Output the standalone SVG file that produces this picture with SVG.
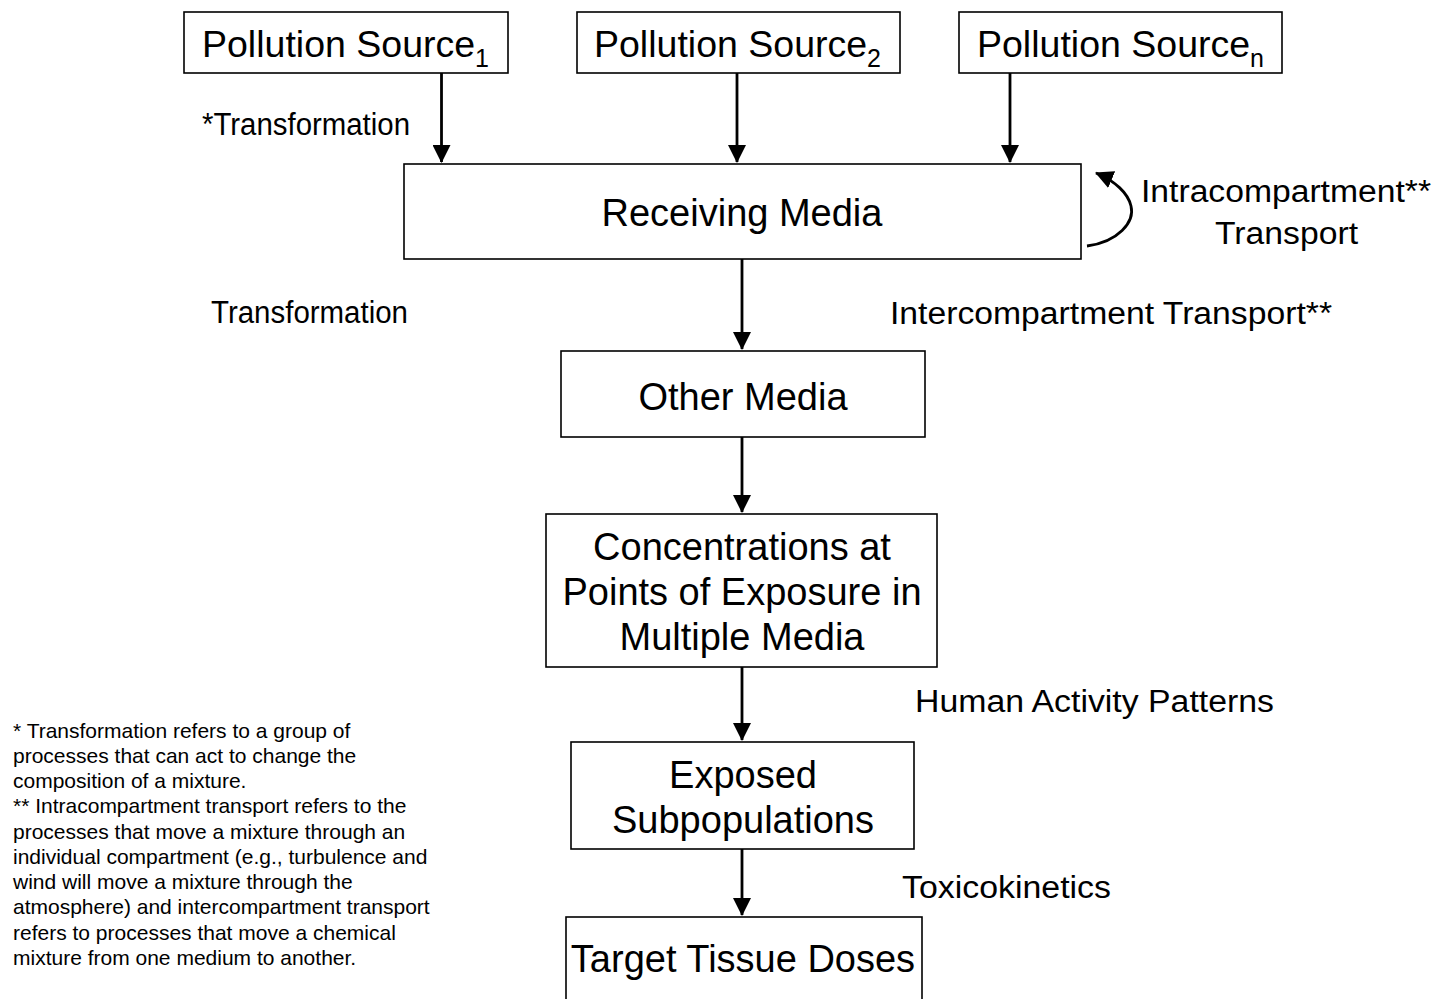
<svg xmlns="http://www.w3.org/2000/svg" width="1436" height="999" viewBox="0 0 1436 999">
<style>
text{font-family:"Liberation Sans",Arial,sans-serif;fill:#000}
.box{fill:#fff;stroke:#000;stroke-width:1.6}
.bt{font-size:38px;text-anchor:middle}
.lb{font-size:31px}
.fn{font-size:21px}
.ar{stroke:#000;stroke-width:2.8;fill:none}
</style>
<defs>
<marker id="ah" markerUnits="userSpaceOnUse" markerWidth="18" markerHeight="18" refX="17" refY="9" orient="auto">
<path d="M0,0 L18,9 L0,18 z" fill="#000"/>
</marker>
</defs>
<rect width="1436" height="999" fill="#fff"/>
<g id="connectors">
<line class="ar" x1="441.5" y1="73" x2="441.5" y2="162" marker-end="url(#ah)"/>
<line class="ar" x1="737" y1="73" x2="737" y2="162" marker-end="url(#ah)"/>
<line class="ar" x1="1010" y1="73" x2="1010" y2="162" marker-end="url(#ah)"/>
<line class="ar" x1="742" y1="259" x2="742" y2="349" marker-end="url(#ah)"/>
<line class="ar" x1="742" y1="437" x2="742" y2="512" marker-end="url(#ah)"/>
<line class="ar" x1="742" y1="667" x2="742" y2="740" marker-end="url(#ah)"/>
<line class="ar" x1="742" y1="849" x2="742" y2="915" marker-end="url(#ah)"/>
<path class="ar" d="M1087,246 C1118,242 1135,222 1131,206 C1128,193 1115,181 1096,173" marker-end="url(#ah)"/>
</g>
<g id="ps1"><rect class="box" x="184" y="12" width="324" height="61"/><text x="202" y="57" font-size="37.5">Pollution Source<tspan dy="10" font-size="25">1</tspan></text></g>
<g id="ps2"><rect class="box" x="577" y="12" width="323" height="61"/><text x="594" y="57" font-size="37.5">Pollution Source<tspan dy="10" font-size="25">2</tspan></text></g>
<g id="psn"><rect class="box" x="959" y="12" width="323" height="61"/><text x="977" y="57" font-size="37.5">Pollution Source<tspan dy="10" font-size="25">n</tspan></text></g>
<g id="receiving"><rect class="box" x="404" y="164" width="677" height="95"/><text class="bt" x="742" y="226">Receiving Media</text></g>
<g id="other"><rect class="box" x="561" y="351" width="364" height="86"/><text class="bt" x="743" y="410">Other Media</text></g>
<g id="concentrations"><rect class="box" x="546" y="514" width="391" height="153"/>
<text class="bt" x="742" y="560">Concentrations at</text>
<text class="bt" x="742" y="605">Points of Exposure in</text>
<text class="bt" x="742" y="650">Multiple Media</text></g>
<g id="exposed"><rect class="box" x="571" y="742" width="343" height="107"/>
<text class="bt" x="743" y="788">Exposed</text>
<text class="bt" x="743" y="833">Subpopulations</text></g>
<g id="target"><rect class="box" x="566" y="917" width="356" height="90"/><text class="bt" x="743" y="972">Target Tissue Doses</text></g>
<g id="labels">
<text class="lb" x="202" y="135" textLength="208" lengthAdjust="spacingAndGlyphs">*Transformation</text>
<text class="lb" x="211" y="323" textLength="197" lengthAdjust="spacingAndGlyphs">Transformation</text>
<text class="lb" x="890" y="324" textLength="442" lengthAdjust="spacingAndGlyphs">Intercompartment Transport**</text>
<text class="lb" x="1141" y="202" textLength="290" lengthAdjust="spacingAndGlyphs">Intracompartment**</text>
<text class="lb" x="1215" y="244" textLength="143" lengthAdjust="spacingAndGlyphs">Transport</text>
<text class="lb" x="915" y="712" textLength="359" lengthAdjust="spacingAndGlyphs">Human Activity Patterns</text>
<text class="lb" x="902" y="898" textLength="209" lengthAdjust="spacingAndGlyphs">Toxicokinetics</text>
</g>
<g id="footnote">
<text class="fn" x="13" y="738">* Transformation refers to a group of</text>
<text class="fn" x="13" y="763">processes that can act to change the</text>
<text class="fn" x="13" y="788">composition of a mixture.</text>
<text class="fn" x="13" y="813">** Intracompartment transport refers to the</text>
<text class="fn" x="13" y="839">processes that move a mixture through an</text>
<text class="fn" x="13" y="864">individual compartment (e.g., turbulence and</text>
<text class="fn" x="13" y="889">wind will move a mixture through the</text>
<text class="fn" x="13" y="914">atmosphere) and intercompartment transport</text>
<text class="fn" x="13" y="940">refers to processes that move a chemical</text>
<text class="fn" x="13" y="965">mixture from one medium to another.</text>
</g>
</svg>
